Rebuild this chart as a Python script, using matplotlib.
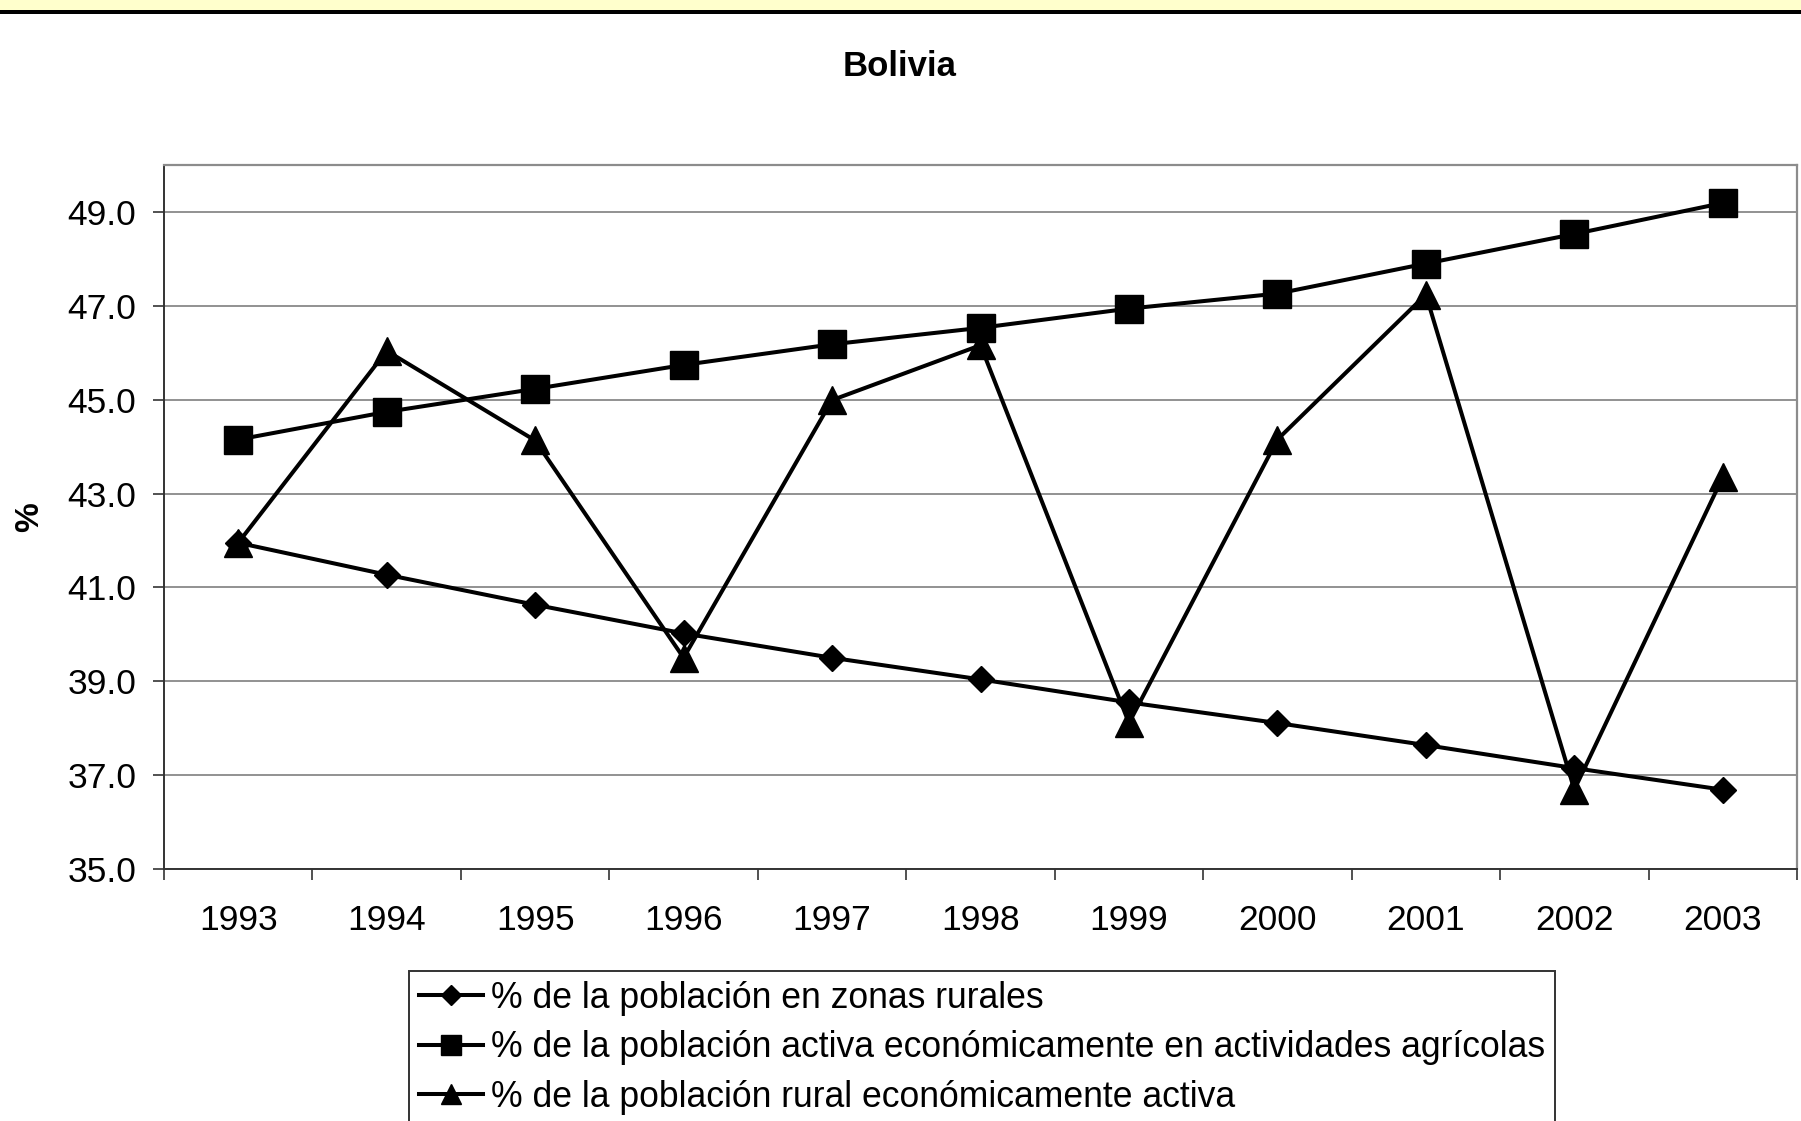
import matplotlib
matplotlib.use("Agg")
import matplotlib.pyplot as plt
from matplotlib.patches import Rectangle
from matplotlib.lines import Line2D

years = ["1993", "1994", "1995", "1996", "1997", "1998", "1999", "2000", "2001", "2002", "2003"]
rural = [41.95, 41.27, 40.63, 40.02, 39.50, 39.04, 38.55, 38.11, 37.64, 37.15, 36.69]
agricola = [44.15, 44.74, 45.23, 45.74, 46.18, 46.53, 46.94, 47.26, 47.90, 48.53, 49.19]
rural_activa = [41.95, 46.04, 44.13, 39.50, 44.99, 46.16, 38.11, 44.15, 47.24, 36.69, 43.35]

labels = ["% de la población en zonas rurales",
          "% de la población activa económicamente en actividades agrícolas",
          "% de la población rural económicamente activa"]
yticks = [35.0, 37.0, 39.0, 41.0, 43.0, 45.0, 47.0, 49.0]

plt.rcParams['font.family'] = ['Liberation Sans', 'DejaVu Sans']

W, H = 1801, 1121
fig = plt.figure(figsize=(W / 100, H / 100), dpi=100)
fig.patch.set_facecolor("white")

# top yellow band with black rule
fig.patches.append(Rectangle((0, 1 - 10 / H), 1, 10 / H, transform=fig.transFigure,
                             facecolor="#FFFFCC", edgecolor="none", zorder=0))
fig.patches.append(Rectangle((0, 1 - 13.5 / H), 1, 3.5 / H, transform=fig.transFigure,
                             facecolor="black", edgecolor="none", zorder=1))

left, right, top, bottom = 164, 1797, 165, 869
ax = fig.add_axes([left / W, 1 - bottom / H, (right - left) / W, (bottom - top) / H])

x = list(range(len(years)))
lw = 2.9
ax.plot(x, rural, color="black", lw=lw, marker="D", markersize=13.5, zorder=3)
ax.plot(x, agricola, color="black", lw=lw, marker="s", markersize=19.5, zorder=3)
ax.plot(x, rural_activa, color="black", lw=lw, marker="^", markersize=19.5, zorder=3)

ax.set_xlim(-0.5, len(years) - 0.5)
ax.set_ylim(35, 50)
ax.set_yticks(yticks)
ax.set_yticklabels([f"{v:.1f}" for v in yticks])
ax.set_xticks(x)
ax.set_xticklabels(years)
ax.set_xticks([i - 0.5 for i in range(len(years) + 1)], minor=True)

ax.tick_params(axis="y", which="major", length=8, width=1.2, color="#333333",
               labelsize=25.5, pad=12, direction="out")
ax.tick_params(axis="x", which="major", length=0, labelsize=25.5, pad=25)
ax.tick_params(axis="x", which="minor", length=8, width=1.2, color="#333333", direction="out")

ax.grid(axis="y", which="major", color="#7f7f7f", lw=1.2)
ax.set_axisbelow(True)
for s in ["top", "right"]:
    ax.spines[s].set_color("#8c8c8c")
    ax.spines[s].set_linewidth(1.6)
for s in ["left", "bottom"]:
    ax.spines[s].set_color("#333333")
    ax.spines[s].set_linewidth(1.4)

fig.text(900 / W, 1 - 66 / H, "Bolivia", ha="center", va="center",
         fontsize=25, fontweight="bold")
fig.text(30 / W, 1 - 517 / H, "%", ha="center", va="center", rotation=90,
         fontsize=24, fontweight="bold")

handles = [Line2D([], [], color="black", lw=lw, marker="D", markersize=10),
           Line2D([], [], color="black", lw=lw, marker="s", markersize=14),
           Line2D([], [], color="black", lw=lw, marker="^", markersize=15)]
leg = fig.legend(handles, labels, loc="upper left",
                 bbox_to_anchor=(409 / W, 1 - 971 / H), bbox_transform=fig.transFigure,
                 fontsize=25.6, frameon=True, fancybox=False, shadow=False,
                 handlelength=1.8, handletextpad=0.25, labelspacing=0.41,
                 borderpad=0.27, borderaxespad=0, edgecolor="black")
leg.get_frame().set_linewidth(1.4)

fig.savefig("out.png", dpi=100)
